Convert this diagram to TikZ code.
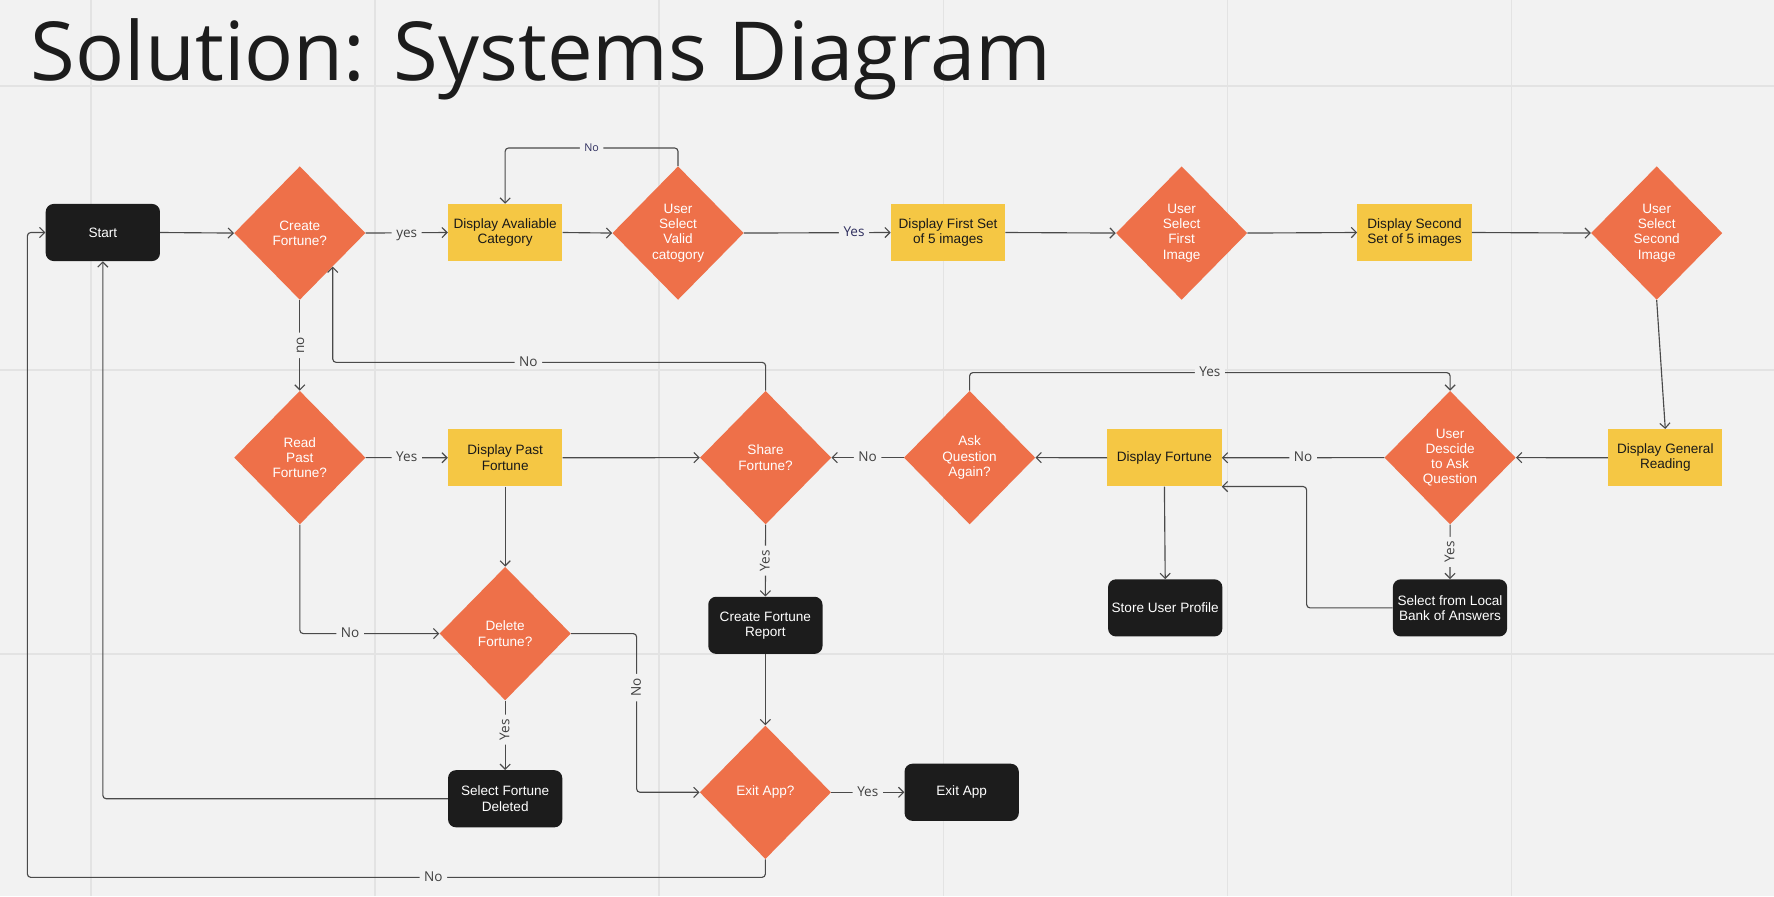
\documentclass[tikz,border=0pt]{standalone}
\usepackage{fontspec}
\setmainfont{Liberation Sans}
\newfontfamily\opensans{Open Sans}
\usetikzlibrary{shapes.geometric,arrows.meta,calc}

\definecolor{bg}{HTML}{F2F2F2}
\definecolor{gridc}{HTML}{E3E3E3}
\definecolor{decision}{HTML}{EE7049}
\definecolor{display}{HTML}{F5C744}
\definecolor{terminal}{HTML}{1C1C1C}
\definecolor{linec}{HTML}{4A4A4A}
\definecolor{lbltext}{HTML}{404040}
\definecolor{navy}{HTML}{2E2E5E}

\begin{document}
\begin{tikzpicture}[x=1pt,y=-1pt,
  nodefont/.style={font=\fontsize{12}{13.5}\selectfont},
  decide/.style={diamond, fill=decision, text=white, minimum width=116pt,
    minimum height=118pt, inner sep=0pt, align=center, nodefont},
  showbox/.style={rectangle, fill=display, text=black!90, minimum width=101pt,
    minimum height=50.5pt, inner sep=0pt, align=center, nodefont},
  termbox/.style={rectangle, rounded corners=7pt, fill=terminal, text=white,
    minimum width=101pt, minimum height=50.5pt, inner sep=0pt, align=center, nodefont},
  conn/.style={draw=linec, line width=1pt, rounded corners=3pt,
    -{Straight Barb[length=4.5pt,width=9pt,line width=1pt]}},
  lbl/.style={fill=bg, text=lbltext, inner xsep=4pt, inner ysep=2pt,
    text height=8pt, text depth=0.5pt,
    font=\opensans\fontsize{12}{12}\selectfont},
  smalllbl/.style={lbl, text=navy, inner ysep=1pt, text height=6.5pt,
    font=\opensans\fontsize{9.5}{9.5}\selectfont},
]
% canvas and board grid
\useasboundingbox (0,0) rectangle (1568,792);
\fill[bg] (0,0) rectangle (1568,792);
\foreach \gx in {80.5,331.6,582.7,833.8,1084.9,1336}
  \draw[gridc, line width=1.5pt] (\gx,0) -- (\gx,792);
\foreach \gy in {76,327,578}
  \draw[gridc, line width=1.5pt] (0,\gy) -- (1568,\gy);

% heading
\node[anchor=base west, inner sep=0pt, text=terminal,
  font=\opensans\fontsize{72}{72}\selectfont] (title) at (27,71)
  {Solution: Systems Diagram};

% top row: creating a fortune
\node[termbox] (start)     at (90.9,205.5)  {Start};
\node[decide]  (create)    at (265,206)     {Create\\Fortune?};
\node[showbox] (avail)     at (446.5,205.5) {Display Avaliable\\Category};
\node[decide]  (valid)     at (599.3,206)   {User\\Select\\Valid\\catogory};
\node[showbox] (first5)    at (838,205.5)   {Display First Set\\of 5 images};
\node[decide]  (firstimg)  at (1044.4,206)  {User\\Select\\First\\Image};
\node[showbox] (second5)   at (1250.3,205.5){Display Second\\Set of 5 images};
\node[decide]  (secondimg) at (1464.3,206)  {User\\Select\\Second\\Image};

% middle row
\node[decide]  (read)      at (265,404.5)   {Read\\Past\\Fortune?};
\node[showbox] (disppast)  at (446.5,404.6) {Display Past\\Fortune};
\node[decide]  (share)     at (676.7,404.5) {Share\\Fortune?};
\node[decide]  (askagain)  at (857,404.5)   {Ask\\Question\\Again?};
\node[showbox] (dispf)     at (1029.2,404.6){Display Fortune};
\node[decide]  (descide)   at (1281.7,404.5){User\\Descide\\to Ask\\Question};
\node[showbox] (general)   at (1471.9,404.6){Display General\\Reading};

% lower rows
\node[decide]  (delete)    at (446.5,560)   {Delete\\Fortune?};
\node[termbox] (report)    at (676.5,552.7) {Create Fortune\\Report};
\node[termbox] (store)     at (1029.9,537.3){Store User Profile};
\node[termbox] (local)     at (1281.6,537.3){Select from Local\\Bank of Answers};
\node[termbox] (deleted)   at (446.5,706)   {Select Fortune\\Deleted};
\node[decide]  (exitq)     at (676.5,700.3) {Exit App?};
\node[termbox] (exitapp)   at (850,700.3)   {Exit App};

% connectors
\draw[conn] (start.east) -- (create.west);
\draw[conn] (create.east) -- node[lbl]{yes} (avail.west);
\draw[conn] (avail.east) -- (valid.west);
\draw[conn] (valid.north) -- ++(0,-16) -| node[smalllbl, pos=0.25]{No} (avail.north);
\draw[conn] (valid.east) -- node[lbl, pos=0.75, text=navy]{Yes} (first5.west);
\draw[conn] (first5.east) -- (firstimg.west);
\draw[conn] (firstimg.east) -- (second5.west);
\draw[conn] (second5.east) -- (secondimg.west);
\draw[conn] (secondimg.south) -- (general.north);
\draw[conn] (general.west) -- (descide.east);
\draw[conn] (descide.west) -- node[lbl]{No} (dispf.east);
\draw[conn] (descide.south) -- node[lbl, rotate=90]{Yes} (local.north);
\draw[conn] (local.west) -- ++(-76,0) |- (dispf.south east);
\draw[conn] (dispf.west) -- (askagain.east);
\draw[conn] (dispf.south) -- (store.north);
\draw[conn] (askagain.north) -- ++(0,-16) -| node[lbl, pos=0.25]{Yes} (descide.north);
\draw[conn] (askagain.west) -- node[lbl]{No} (share.east);
\draw[conn] (share.north) -- ++(0,-25) -| node[lbl, pos=0.274]{No} (create.south east);
\draw[conn] (create.south) -- node[lbl, rotate=90]{no} (read.north);
\draw[conn] (read.east) -- node[lbl]{Yes} (disppast.west);
\draw[conn] (disppast.east) -- (share.west);
\draw[conn] (disppast.south) -- (delete.north);
\draw[conn] (read.south) |- node[lbl, pos=0.68]{No} (delete.west);
\draw[conn] (delete.east) -- ++(58,0) |- node[lbl, pos=0.17, rotate=90]{No} (exitq.west);
\draw[conn] (delete.south) -- node[lbl, pos=0.42, rotate=90]{Yes} (deleted.north);
\draw[conn] (deleted.west) -| (start.south);
\draw[conn] (share.south) -- node[lbl, rotate=90]{Yes} (report.north);
\draw[conn] (report.south) -- (exitq.north);
\draw[conn] (exitq.east) -- node[lbl]{Yes} (exitapp.west);
\draw[conn] (exitq.south) -- ++(0,16) -| node[lbl, pos=0.225]{No}
  ($(start.west)+(-16,0)$) -- (start.west);
\end{tikzpicture}
\end{document}
